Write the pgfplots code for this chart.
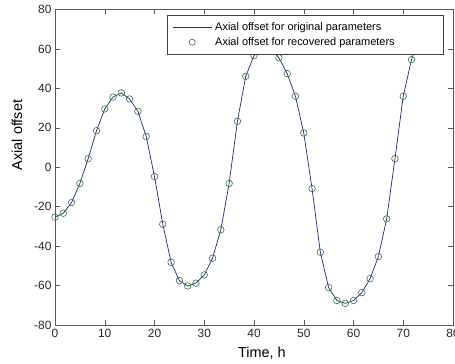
\documentclass[border=0pt]{standalone}
\usepackage{fontspec}
\setmainfont{Liberation Sans}
\usepackage{pgfplots}
\usepackage{pgfplotstable}
\pgfplotsset{compat=1.18}
\definecolor{navyline}{RGB}{35,35,125}
\definecolor{mgreen}{RGB}{45,115,65}
\pgfplotstableread{
x y
0 -25.3
1.667 -23.3
3.333 -17.9
5.0 -8.2
6.667 4.3
8.333 18.5
10.0 29.6
11.667 35.6
13.333 37.7
15.0 34.6
16.667 28.4
18.333 15.6
20.0 -4.7
21.667 -28.9
23.333 -48.2
25.0 -57.5
26.667 -60.2
28.333 -58.8
30.0 -54.6
31.667 -46.1
33.333 -31.7
35.0 -8.2
36.667 23.3
38.333 46.1
40.0 56.6
41.667 61.5
43.333 60.5
45.0 55.5
46.667 47.5
48.333 36.0
50.0 17.4
51.667 -10.8
53.333 -43.1
55.0 -61.0
56.667 -67.6
58.333 -69.0
60.0 -67.6
61.667 -63.6
63.333 -56.5
65.0 -45.3
66.667 -26.2
68.333 4.4
70.0 36.0
71.667 54.6
}\recovered
\pgfplotstableread{
x y
0 -25.3
1.667 -23.3
3.333 -17.9
5.0 -8.2
6.667 4.3
8.333 18.5
10.0 29.6
11.667 35.6
13.333 37.7
15.0 34.6
16.667 28.4
18.333 15.6
20.0 -4.7
21.667 -28.9
23.333 -48.2
25.0 -57.5
26.667 -60.2
28.333 -58.8
30.0 -54.6
31.667 -46.1
33.333 -31.7
35.0 -8.2
36.667 23.3
38.333 46.1
40.0 56.6
41.667 61.5
43.333 60.5
45.0 55.5
46.667 47.5
48.333 36.0
50.0 17.4
51.667 -10.8
53.333 -43.1
55.0 -61.0
56.667 -67.6
58.333 -69.0
60.0 -67.6
61.667 -63.6
63.333 -56.5
65.0 -45.3
66.667 -26.2
68.333 4.4
70.0 36.0
71.667 54.6
72.5 61.0
}\original
\begin{document}
\begin{tikzpicture}
\begin{axis}[
  width=398bp, height=315.5bp, scale only axis,
  xmin=0, xmax=80, ymin=-80, ymax=80,
  xtick={0,10,...,80}, ytick={-80,-60,...,80},
  tick align=inside, major tick length=5bp,
  axis line style={draw=black!65, line width=0.6bp},
  tick style={draw=black!65, line width=0.5bp},
  /pgf/number format/assume math mode=true,
  ticklabel style={font=\fontsize{12}{14}\selectfont, text=black!85},
  xticklabel style={yshift=-1bp},
  label style={font=\fontsize{14.5}{17}\selectfont},
  xlabel={Time, h},
  ylabel={Axial offset},
  xlabel style={at={(axis description cs:0.52,-0.0887)}, anchor=center},
  ylabel style={at={(axis description cs:-0.0955,0.602)}, anchor=center},
  legend cell align=left,
  legend style={at={(axis description cs:0.2814,0.9826)}, anchor=north west,
    draw=black!75, fill=white, line width=0.5bp,
    inner xsep=0pt, inner ysep=4.5bp,
    font=\fontsize{11}{13}\selectfont,
    nodes={inner ysep=1.5bp, text height=9bp, text depth=3bp}},
]
\addplot[navyline, line width=0.7bp,
  legend image code/.code={\path[draw=none,fill=none] (0bp,-3bp) rectangle (46bp,3bp); \draw[navyline, line width=0.7bp] (6bp,0bp) -- (45bp,0bp);}]
  table[x=x,y=y] {\original};
\addlegendentry{Axial offset for original parameters}
\addplot[only marks, mark=o, mark size=3.3bp, mark options={draw=mgreen, line width=0.6bp},
  legend image code/.code={\path[draw=none,fill=none] (0bp,-3bp) rectangle (46bp,3bp); \draw[mgreen, line width=0.6bp] (25bp,0bp) circle (3bp);}]
  table[x=x,y=y] {\recovered};
\addlegendentry{Axial offset for recovered parameters\hspace*{47bp}}
\coordinate (sw) at (rel axis cs:0,0);
\coordinate (ne) at (rel axis cs:1,1);
\end{axis}
\pgfresetboundingbox
\path ([xshift=-55bp,yshift=-39bp]sw) rectangle ([xshift=2bp,yshift=9.5bp]ne);
\end{tikzpicture}
\end{document}
